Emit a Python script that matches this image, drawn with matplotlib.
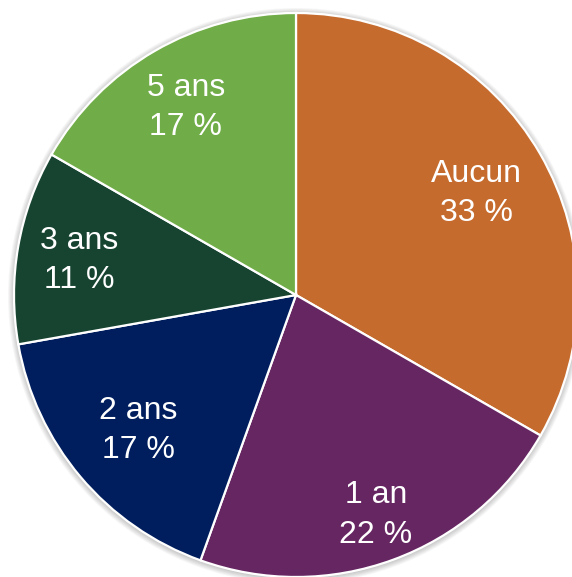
import numpy as np
import matplotlib
matplotlib.use("Agg")
import matplotlib.pyplot as plt
from matplotlib.patches import Circle

categories = ["Aucun", "1 an", "2 ans", "3 ans", "5 ans"]
values = [33.3, 22.2, 16.7, 11.1, 16.7]
colors = ["#C66B2E", "#662662", "#001E5E", "#174431", "#70AC47"]
label_radius = [0.74, 0.82, 0.73, 0.78, 0.78]

W, H = 572, 577
fig = plt.figure(figsize=(W / 100, H / 100), dpi=100)
ax = fig.add_axes([0, 0, 1, 1])

cx, cy, R = 296, H - 295, 282

# soft shadow
for i in range(6):
    ax.add_patch(Circle((cx, cy - 1), R + 1 + i * 1.0, color="black",
                        alpha=0.035, lw=0, zorder=0))

wedges, _ = ax.pie(values, colors=colors, startangle=90, counterclock=False,
                   center=(cx, cy), radius=R,
                   wedgeprops=dict(edgecolor="white", linewidth=1.6),
                   frame=True)
ax.set_xlim(0, W)
ax.set_ylim(0, H)
ax.set_aspect("equal")
ax.axis("off")

for w, cat, v, lr in zip(wedges, categories, values, label_radius):
    ang = np.deg2rad((w.theta1 + w.theta2) / 2)
    x = cx + lr * R * np.cos(ang)
    y = cy + lr * R * np.sin(ang) - 3
    ax.text(x, y, f"{cat}\n{round(v)} %", ha="center", va="center", color="white",
            fontsize=23, family="Liberation Sans", linespacing=1.4, zorder=5)

fig.savefig("out.png", dpi=100, facecolor="white")
